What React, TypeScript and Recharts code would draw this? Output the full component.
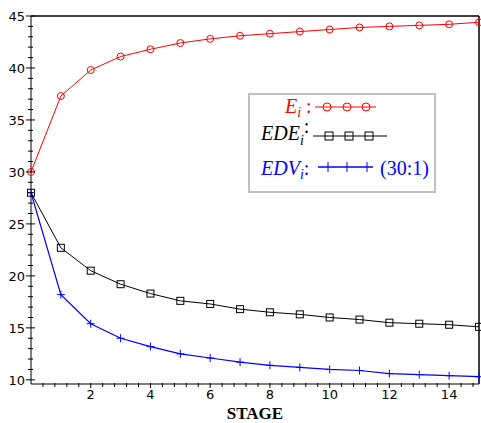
import React from 'react';
import { LineChart, Line, XAxis, YAxis, ReferenceLine, Legend } from 'recharts';

const stages = [0, 1, 2, 3, 4, 5, 6, 7, 8, 9, 10, 11, 12, 13, 14, 15];
const ei = [30.0, 37.3, 39.8, 41.1, 41.8, 42.4, 42.8, 43.1, 43.3, 43.5, 43.7, 43.9, 44.0, 44.1, 44.2, 44.4];
const edei = [28.0, 22.7, 20.5, 19.2, 18.3, 17.6, 17.3, 16.8, 16.5, 16.3, 16.0, 15.8, 15.5, 15.4, 15.3, 15.1];
const edvi = [28.0, 18.2, 15.4, 14.0, 13.2, 12.5, 12.1, 11.7, 11.4, 11.2, 11.0, 10.9, 10.6, 10.5, 10.4, 10.3];

const xMajor = [2, 4, 6, 8, 10, 12, 14];
const yMajor = [10, 15, 20, 25, 30, 35, 40, 45];

const xTicks: number[] = [];
for (let i = 1; i * 0.4 < 15; i++) xTicks.push(Math.round(i * 0.4 * 10) / 10);
const yTicks: number[] = [];
for (let v = 10; v <= 45; v++) yTicks.push(v);

const data = stages.map((s, i) => ({ stage: s, ei: ei[i], edei: edei[i], edvi: edvi[i] }));

const tickFont = { fontFamily: 'DejaVu Sans', fontSize: 13, fill: '#000' };

const XTick = (p: any) => {
  const v = p.payload.value;
  const major = xMajor.includes(v);
  return (
    <g>
      <line x1={p.x} x2={p.x} y1={p.y - 1} y2={p.y + (major ? 4 : 3)} stroke="#000" />
      {major && (
        <text x={p.x} y={p.y + 15} textAnchor="middle" {...tickFont}>{v}</text>
      )}
    </g>
  );
};

const YTick = (p: any) => {
  const v = p.payload.value;
  const major = yMajor.includes(v);
  return (
    <g>
      <line x1={p.x - (major ? 5 : 3)} x2={p.x + (major ? 4 : 2)} y1={p.y} y2={p.y} stroke="#000" />
      {major && (
        <text x={p.x - 6} y={p.y + 5} textAnchor="end" {...tickFont}>{v}</text>
      )}
    </g>
  );
};

const Circle = (p: any) => (
  <circle key={p.index} cx={p.cx} cy={p.cy} r={3.5} fill="none" stroke="#ff0000" strokeWidth={1} />
);
const Square = (p: any) => (
  <rect key={p.index} x={p.cx - 3.5} y={p.cy - 3.5} width={7} height={7} fill="none" stroke="#000" strokeWidth={1} />
);
const Plus = (p: any) => (
  <path key={p.index} d={`M${p.cx - 4},${p.cy}H${p.cx + 4}M${p.cx},${p.cy - 4}V${p.cy + 4}`} stroke="#0000ff" strokeWidth={1} />
);

const serif = 'Liberation Serif, Times New Roman, serif';

const LegendBox = () => (
  <svg width={188} height={100} style={{ display: 'block' }}>
    <rect x={1} y={1} width={186} height={98} fill="#fff" stroke="#c0c0c0" strokeWidth={2} />
    <text x={37} y={20} fill="#ff0000" fontFamily={serif} fontSize={20} fontStyle="italic">
      E<tspan dy={4} fontSize={14}>i</tspan><tspan dy={-4} fontStyle="normal"> :</tspan>
    </text>
    <line x1={67} x2={128} y1={14} y2={14} stroke="#ff0000" />
    {[79, 99, 118].map(x => <circle key={x} cx={x} cy={14} r={4} fill="none" stroke="#ff0000" />)}
    <text x={13} y={47} fill="#000" fontFamily={serif} fontSize={20} fontStyle="italic">
      EDE<tspan dy={5} fontSize={14}>i</tspan><tspan dy={-12} fontStyle="normal">:</tspan>
    </text>
    <line x1={65} x2={139} y1={43} y2={43} stroke="#000" />
    {[81, 101, 121].map(x => <rect key={x} x={x - 4} y={39} width={8} height={8} fill="none" stroke="#000" />)}
    <text x={13} y={82} fill="#0000ff" fontFamily={serif} fontSize={20} fontStyle="italic">
      EDV<tspan dy={4} fontSize={14}>i</tspan><tspan dy={-4} fontStyle="normal">:</tspan>
    </text>
    <line x1={70} x2={125} y1={74} y2={74} stroke="#0000ff" strokeWidth={1.5} />
    {[80, 99, 119].map(x => (
      <line key={x} x1={x} x2={x} y1={69} y2={79} stroke="#0000ff" />
    ))}
    <text x={132} y={82} fill="#0000ff" fontFamily={serif} fontSize={20}>(30:1)</text>
  </svg>
);

export default function App() {
  return (
    <div style={{ position: 'absolute', left: 0, top: 0, width: 481, height: 423, background: '#fff' }}>
      <LineChart width={481} height={423} data={data} margin={{ top: 16, right: 2, bottom: 0, left: 0 }}>
        <XAxis
          dataKey="stage"
          type="number"
          domain={[0, 15]}
          ticks={xTicks}
          interval={0}
          tickSize={0}
          tickMargin={0}
          height={39}
          axisLine={{ stroke: '#000' }}
          tick={<XTick />}
          label={{ value: 'STAGE', position: 'insideBottom', offset: 4, style: { fontFamily: serif, fontWeight: 'bold', fontSize: 17, fill: '#000' } }}
        />
        <YAxis
          type="number"
          domain={[9.6, 45]}
          ticks={yTicks}
          interval={0}
          tickSize={0}
          tickMargin={0}
          width={31}
          axisLine={{ stroke: '#000' }}
          tick={<YTick />}
          allowDataOverflow
        />
        <ReferenceLine y={45} stroke="#000" strokeWidth={1.5} />
        <ReferenceLine x={15} stroke="#000" strokeWidth={1.5} />
        <Legend
          layout="vertical"
          align="center"
          verticalAlign="middle"
          content={() => <LegendBox />}
          wrapperStyle={{ position: 'absolute', left: 248, top: 93, width: 188, height: 100 }}
        />
        <Line dataKey="ei" stroke="#ff0000" strokeWidth={1} dot={Circle} isAnimationActive={false} />
        <Line dataKey="edei" stroke="#000" strokeWidth={1} dot={Square} isAnimationActive={false} />
        <Line dataKey="edvi" stroke="#0000ff" strokeWidth={1.2} dot={Plus} isAnimationActive={false} />
      </LineChart>
    </div>
  );
}
